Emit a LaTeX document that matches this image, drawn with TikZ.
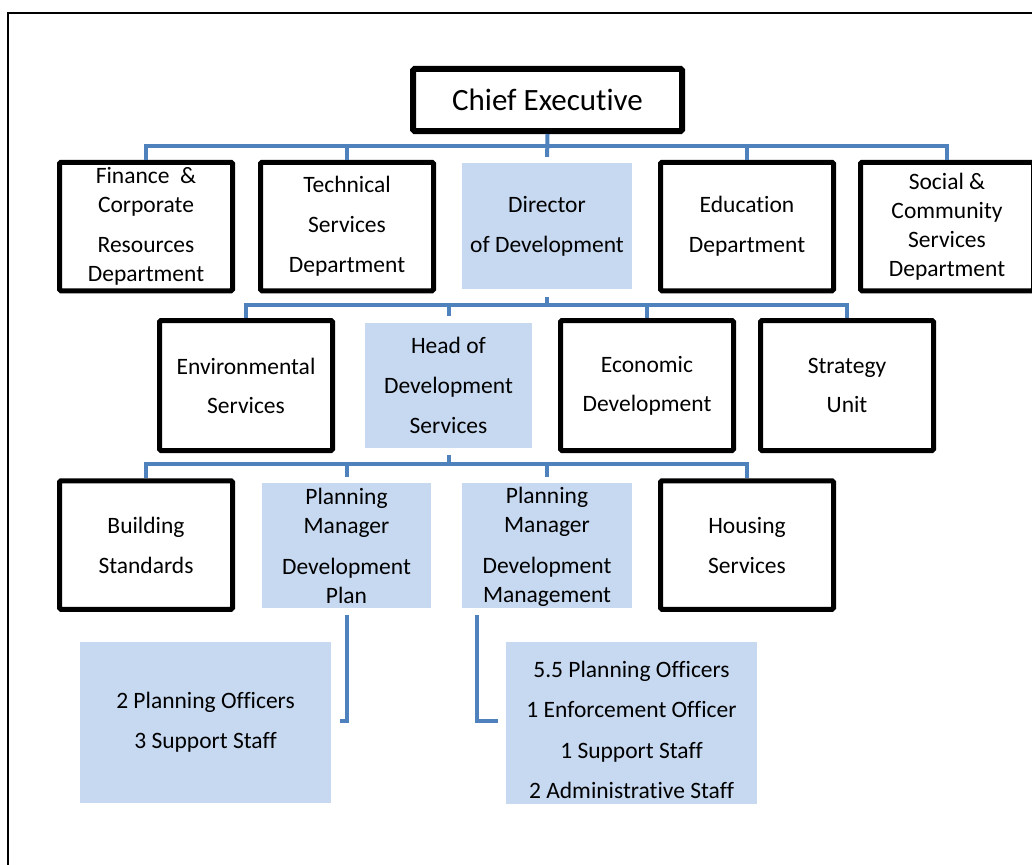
\documentclass[tikz,border=0pt]{standalone}
\usepackage{fontspec}
\setmainfont[Ligatures={NoCommon}]{Carlito}
\definecolor{linkblue}{RGB}{79,129,189}
\definecolor{postfill}{RGB}{198,217,241}
\tikzset{
  unit/.style={draw=black, line width=5pt, rounded corners=1.5pt, inner sep=0pt,
    minimum width=173pt, minimum height=128.5pt, align=center,
    font=\fontsize{23.5}{29}\selectfont},
  post/.style={fill=postfill, inner sep=0pt, minimum width=170pt,
    minimum height=126pt, align=center, font=\fontsize{23.5}{29}\selectfont},
  link/.style={draw=linkblue, line width=4pt},
}
\begin{document}
\begin{tikzpicture}[x=1pt,y=-1pt]
\useasboundingbox (0,0) rectangle (1032,864);
\draw[line width=1.5pt] (8,13) rectangle (1050,880);
% top
\node[unit, line width=6pt, minimum width=269pt, minimum height=62pt,
  font=\fontsize{31}{36}\selectfont] (chief) at (547.5,100) {Chief Executive};
% departments
\node[unit] (fin) at (146,226.5) {Finance\ \ \&\\Corporate\\[11pt]Resources\\Department};
\node[unit] (tech) at (347,226.5) {Technical\\[11pt]Services\\[11pt]Department};
\node[post] (dir) at (547,226) {Director\\[11pt]of Development};
\node[unit] (edu) at (747,226.5) {Education\\[11pt]Department};
\node[unit] (social) at (947,226.5) {Social \&\\Community\\Services\\Department};
% development
\node[unit, minimum height=130pt] (env) at (246,385.5) {Environmental\\[10pt]Services};
\node[post, minimum width=167pt, minimum height=125pt] (head) at (448.5,385.5) {Head of\\[11pt]Development\\[11pt]Services};
\node[unit, minimum height=130pt] (econ) at (647,385.5) {Economic\\[10pt]Development};
\node[unit, minimum height=130pt] (strat) at (847,385.5) {Strategy\\[10pt]Unit};
% services
\node[unit] (build) at (146,545) {Building\\[11pt]Standards};
\node[post, minimum width=169pt, minimum height=125pt] (pmplan) at (346.5,545.5) {Planning\\Manager\\[12pt]Development\\Plan};
\node[post, minimum height=125pt] (pmmgmt) at (547,545.5) {\rule{0pt}{20pt}Planning\\Manager\\[12pt]Development\\Management};
\node[unit] (housing) at (747,545) {Housing\\[11pt]Services};
% staff
\node[post, minimum width=251pt, minimum height=161pt] (planstaff) at (205.5,722.5) {2 Planning Officers\\[11pt]3 Support Staff};
\node[post, minimum width=251pt, minimum height=162pt] (mgmtstaff) at (631.5,723) {\rule{0pt}{30pt}5.5 Planning Officers\\[11.5pt]1 Enforcement Officer\\[11.5pt]1 Support Staff\\[11.5pt]2 Administrative Staff};
\coordinate (planend) at (340,721);
\coordinate (mgmtend) at (498,721);
% connectors
\draw[link] (fin.north) -- ++(0,-14) -| (social.north);
\draw[link] (tech.north) -- ++(0,-14);
\draw[link] (edu.north) -- ++(0,-14);
\draw[link, shorten >=6pt] (chief.south) -- (dir.north);
\draw[link] (env.north) -- ++(0,-13) -| (strat.north);
\draw[link] (econ.north) -- ++(0,-13);
\draw[link, shorten <=8pt] (dir.south) -- ++(0,16);
\draw[link, shorten <=7pt] (head.north) -- ++(0,-18);
\draw[link] (build.north) -- ++(0,-14) -| (housing.north);
\draw[link, shorten <=7pt] (head.south) -- ++(0,16.5);
\draw[link, shorten <=6pt] (pmplan.north) -- ++(0,-19);
\draw[link, shorten <=6pt] (pmmgmt.north) -- ++(0,-19);
\draw[link, shorten <=7pt] (pmplan.south) |- (planend);
\draw[link, shorten <=7pt] ([xshift=-70pt]pmmgmt.south) |- (mgmtend);
\end{tikzpicture}
\end{document}
